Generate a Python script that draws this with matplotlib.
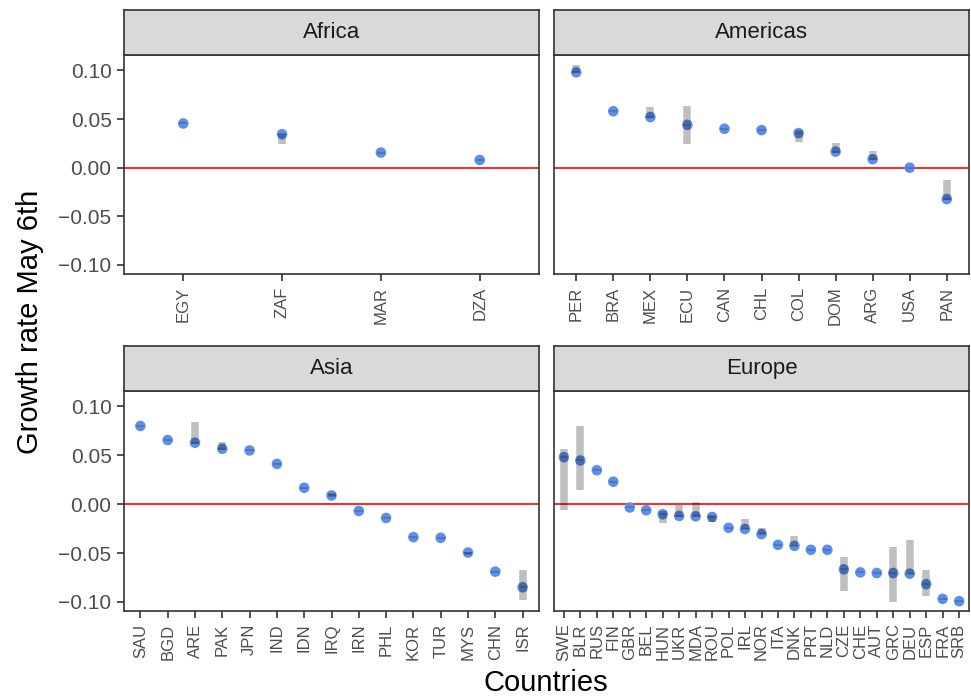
import numpy as np
import matplotlib
matplotlib.use("Agg")
import matplotlib.pyplot as plt

plt.rcParams['font.family'] = ['Liberation Sans', 'DejaVu Sans']

# ------------------------------------------------------------
# Datos (tasa de crecimiento y banda lo/hi)
# ------------------------------------------------------------
africa_codes = ['EGY', 'ZAF', 'MAR', 'DZA']
africa_rate = [0.0454, 0.0344, 0.0155, 0.0079]
africa_lo = [0.0454, 0.0245, 0.0155, 0.0079]
africa_hi = [0.0454, 0.0350, 0.0155, 0.0079]

americas_codes = ['PER', 'BRA', 'MEX', 'ECU', 'CAN', 'CHL', 'COL', 'DOM',
                  'ARG', 'USA', 'PAN']
americas_rate = [0.098, 0.058, 0.052, 0.044, 0.040, 0.0386, 0.0355, 0.0165,
                 0.0087, 0.0, -0.0323]
americas_lo = [0.097, 0.058, 0.051, 0.0247, 0.040, 0.0386, 0.0268, 0.015,
               0.008, 0.0, -0.033]
americas_hi = [0.106, 0.058, 0.062, 0.0636, 0.040, 0.0386, 0.0389, 0.0258,
               0.0172, 0.0, -0.0127]

asia_codes = ['SAU', 'BGD', 'ARE', 'PAK', 'JPN', 'IND', 'IDN', 'IRQ', 'IRN',
              'PHL', 'KOR', 'TUR', 'MYS', 'CHN', 'ISR']
asia_rate = [0.080, 0.0656, 0.0629, 0.0567, 0.055, 0.0412, 0.0168, 0.0089,
             -0.0069, -0.0141, -0.0337, -0.0344, -0.0495, -0.069, -0.085]
asia_lo = [0.080, 0.0656, 0.062, 0.0555, 0.055, 0.0412, 0.0168, 0.0075,
           -0.0069, -0.0141, -0.0337, -0.0344, -0.052, -0.069, -0.098]
asia_hi = [0.080, 0.0656, 0.0841, 0.0635, 0.055, 0.0412, 0.0168, 0.011,
           -0.0069, -0.0141, -0.0337, -0.0344, -0.049, -0.069, -0.0677]

europe_codes = ['SWE', 'BLR', 'RUS', 'FIN', 'GBR', 'BEL', 'HUN', 'UKR', 'MDA',
                'ROU', 'POL', 'IRL', 'NOR', 'ITA', 'DNK', 'PRT', 'NLD', 'CZE',
                'CHE', 'AUT', 'GRC', 'DEU', 'ESP', 'FRA', 'SRB']
europe_rate = [0.0481, 0.0447, 0.0347, 0.0230, -0.0034, -0.0062, -0.0103,
               -0.0120, -0.0124, -0.0131, -0.0241, -0.0254, -0.0306, -0.0416,
               -0.0426, -0.0467, -0.0467, -0.0667, -0.0698, -0.0704, -0.0704,
               -0.0711, -0.0818, -0.0969, -0.0993]
europe_lo = [-0.0058, 0.0144, 0.0347, 0.0230, -0.0034, -0.0062, -0.0189,
             -0.0127, -0.0127, -0.0179, -0.0241, -0.0258, -0.0310, -0.0416,
             -0.0430, -0.0467, -0.0467, -0.0887, -0.0698, -0.0704, -0.1003,
             -0.0715, -0.0938, -0.0969, -0.0993]
europe_hi = [0.0560, 0.0804, 0.0347, 0.0230, -0.0034, -0.0062, -0.0069,
             -0.0007, 0.0027, -0.0110, -0.0241, -0.0155, -0.0241, -0.0416,
             -0.0323, -0.0467, -0.0467, -0.0540, -0.0698, -0.0704, -0.0443,
             -0.0364, -0.0670, -0.0969, -0.0993]

panels = [
    ('Africa', africa_codes, africa_rate, africa_lo, africa_hi),
    ('Americas', americas_codes, americas_rate, americas_lo, americas_hi),
    ('Asia', asia_codes, asia_rate, asia_lo, asia_hi),
    ('Europe', europe_codes, europe_rate, europe_lo, europe_hi),
]

# ------------------------------------------------------------
# Figura (posiciones en píxeles del original 971x696)
# ------------------------------------------------------------
W, H = 971, 696
fig = plt.figure(figsize=(W / 100, H / 100), dpi=100)

col_x = [124, 554]
panel_w = 415
rows = [(10, 55, 274), (346, 391, 611)]   # strip top, panel top, panel bottom

ylim = (-0.1093, 0.1158)
borde = '#333333'
texto = '#4D4D4D'
azul = '#5B8FE8'

for i, (name, codes, rate, lo, hi) in enumerate(panels):
    r, c = divmod(i, 2)
    strip_top, p_top, p_bot = rows[r]
    x0 = col_x[c]

    ax = fig.add_axes([x0 / W, (H - p_bot) / H, panel_w / W, (p_bot - p_top) / H])
    sax = fig.add_axes([x0 / W, (H - p_top) / H, panel_w / W, (p_top - strip_top) / H])

    x = np.arange(len(codes))
    ax.axhline(0, color='red', lw=1.2, zorder=1)
    ax.scatter(x, rate, s=58, color=azul, edgecolors='none', zorder=2)

    lo = np.array(lo)
    hi = np.array(hi)
    con_banda = hi > lo
    ax.vlines(x[con_banda], lo[con_banda], hi[con_banda], color='black',
              alpha=0.25, lw=5.4, zorder=3, capstyle='butt')
    ax.plot(x, rate, ls='none', marker='_', ms=5.4, mew=1.1,
            color='black', alpha=0.22, zorder=3)

    ax.set_xlim(-0.6, len(codes) - 0.4)
    ax.set_ylim(*ylim)
    ax.set_xticks(x)
    ax.set_xticklabels(codes, rotation=90, fontsize=12, color=texto)
    ax.tick_params(axis='x', length=5, width=1.2, color=borde, pad=4)
    if c == 0:
        ax.set_yticks([-0.10, -0.05, 0.0, 0.05, 0.10])
        ax.set_yticklabels(['\u22120.10', '\u22120.05', '0.00', '0.05', '0.10'],
                           fontsize=15, color=texto)
        ax.tick_params(axis='y', length=5, width=1.2, color=borde, pad=4)
    else:
        ax.set_yticks([])
    for s in ax.spines.values():
        s.set_color(borde)
        s.set_linewidth(1.2)

    sax.set_facecolor('#D9D9D9')
    sax.set_xticks([])
    sax.set_yticks([])
    for s in sax.spines.values():
        s.set_color(borde)
        s.set_linewidth(1.2)
    sax.text(0.5, 0.5, name, transform=sax.transAxes, ha='center',
             va='center', fontsize=16, color='#1A1A1A')

fig.text(30 / W, 1 - 322 / H, 'Growth rate May 6th', rotation=90,
         ha='center', va='center', fontsize=21, color='black')
fig.text(546 / W, 1 - 683 / H, 'Countries', ha='center', va='center',
         fontsize=21, color='black')

fig.savefig('out.png', dpi=100)
